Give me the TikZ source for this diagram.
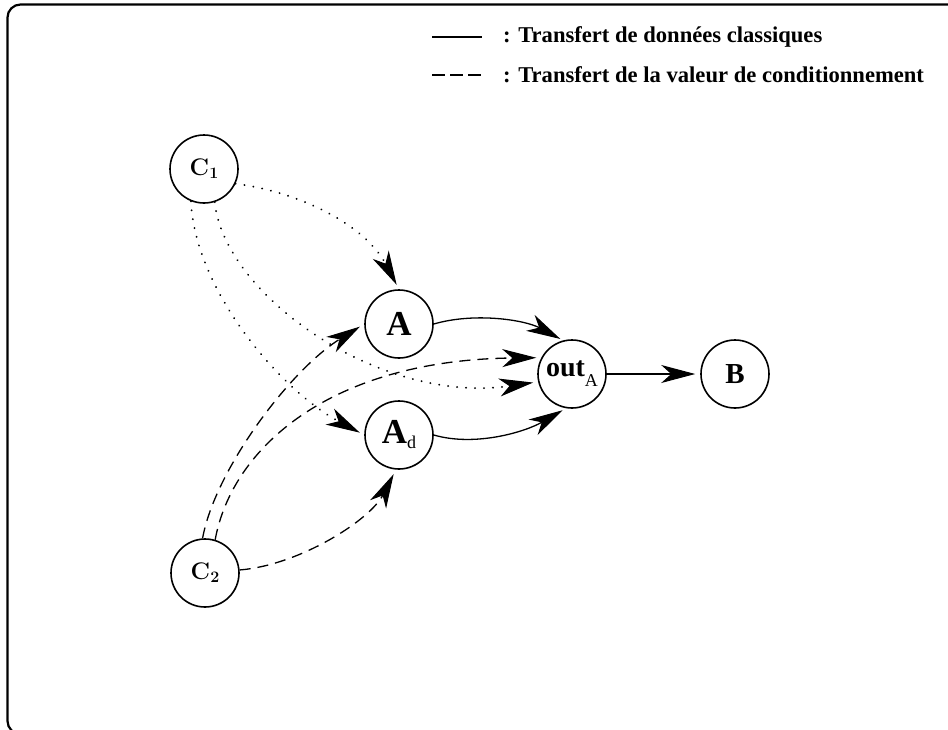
\documentclass[tikz,border=0pt]{standalone}
\usepackage{fontspec}
\newfontfamily\tms{Liberation Serif}
\usetikzlibrary{arrows.meta}
\begin{document}
\begin{tikzpicture}[x=1pt,y=-1pt,
  st/.style={circle, draw, line width=1.6pt, minimum size=68pt, inner sep=0pt},
  link/.style={line width=1.3pt, shorten >=5pt, -{Stealth[length=34pt,width=18pt,inset=10pt,line width=1pt]}},
  dotlink/.style={link, line width=2pt, line cap=round, dash pattern=on 0.1pt off 8.9pt},
  dashlink/.style={link, dash pattern=on 11pt off 7pt},
  legtext/.style={anchor=base west, inner sep=0pt, font=\tms\bfseries\fontsize{22.6}{26}\selectfont}]
\useasboundingbox (0,0) rectangle (948,729);
\clip (0,0) rectangle (948,729);
\draw[line width=2.2pt, rounded corners=13pt] (7.5,4.5) rectangle (965,734);

% legend
\coordinate (l1a) at (432,37);
\coordinate (l1b) at (482,37);
\coordinate (l2a) at (432,75);
\coordinate (l2b) at (482,75);
\draw[line width=1.3pt] (l1a) -- (l1b);
\draw[line width=1.3pt, dash pattern=on 13pt off 5pt] (l2a) -- (l2b);
\node[legtext] (t1) at (503,42) {: Transfert de données classiques};
\node[legtext] (t2) at (503,82) {: Transfert de la valeur de conditionnement};

% nodes
\node[st] (C1) at (204,169) {\fontsize{24}{24}\selectfont\textbf{C}\raisebox{-3pt}{\fontsize{16}{16}\selectfont\textbf{1}}};
\node[st] (C2) at (205,573) {\fontsize{24}{24}\selectfont\textbf{C}\raisebox{-3pt}{\fontsize{16}{16}\selectfont\textbf{2}}};
\node[st] (A) at (399,324) {\tms\bfseries\fontsize{35}{35}\selectfont A};
\node[st] (Ad) at (399,435) {\tms\fontsize{35}{35}\selectfont\textbf{A}\raisebox{-5pt}{\fontsize{18}{18}\selectfont d}};
\node[st] (out) at (572,374) {\tms\fontsize{28}{28}\selectfont\textbf{out}\raisebox{-10pt}{\fontsize{18}{18}\selectfont A}};
\node[st] (B) at (735,374) {\tms\bfseries\fontsize{29}{29}\selectfont B};

% dotted edges from C1
\draw[dotlink] (C1.-25) .. controls (300,192) and (365,225) .. (A.north);
\draw[dotlink] (C1.-112) .. controls (195,290) and (280,390) .. (Ad.west);
\draw[dotlink] (C1.-72) .. controls (224,295) and (380,405) .. (out.193);

% dashed edges from C2
\draw[dashlink] (C2.94) .. controls (215,470) and (290,370) .. (A.west);
\draw[dashlink] (C2.73) .. controls (232,448) and (330,360) .. (out.152);
\draw[dashlink] (C2.5) .. controls (300,565) and (370,520) .. (Ad.-95);

% solid edges
\draw[link, shorten >=3pt] (A.east) .. controls (475,312) and (525,320) .. (out.105);
\draw[link, shorten >=4pt] (Ad.east) .. controls (475,447) and (525,432) .. (out.-100);
\draw[link] (out.east) -- (B.west);
\end{tikzpicture}
\end{document}
